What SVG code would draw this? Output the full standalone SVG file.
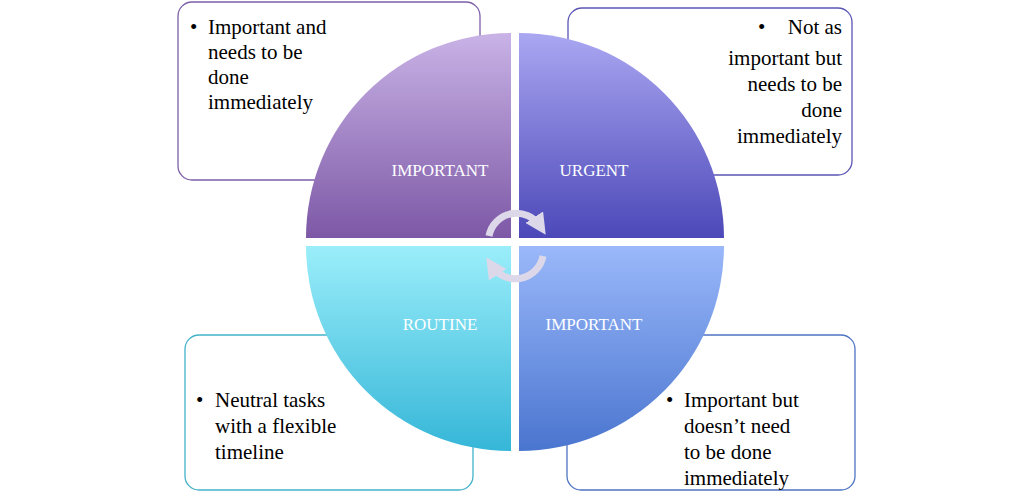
<svg xmlns="http://www.w3.org/2000/svg" width="1033" height="496" viewBox="0 0 1033 496">
<defs>
<linearGradient id="gTL" x1="0" y1="0" x2="0" y2="1"><stop offset="0" stop-color="#c9b3e6"/><stop offset="1" stop-color="#7d58a6"/></linearGradient>
<linearGradient id="gTR" x1="0" y1="0" x2="0" y2="1"><stop offset="0" stop-color="#aaa7f2"/><stop offset="1" stop-color="#4c48b8"/></linearGradient>
<linearGradient id="gBL" x1="0" y1="0" x2="0" y2="1"><stop offset="0" stop-color="#9beefa"/><stop offset="1" stop-color="#35b6d8"/></linearGradient>
<linearGradient id="gBR" x1="0" y1="0" x2="0" y2="1"><stop offset="0" stop-color="#9ab8fa"/><stop offset="1" stop-color="#4a75cf"/></linearGradient>
<marker id="ah" viewBox="0 0 10 10" refX="5" refY="5" markerWidth="3" markerHeight="3" orient="auto"><path d="M0,0 L10,5 L0,10 z" fill="#dcd8ea"/></marker>
</defs>
<style>
.box{fill:#fff;stroke-width:1.3}
.t{font-family:"Liberation Serif",serif;font-size:21px;fill:#000}
.q{font-family:"Liberation Serif",serif;font-size:17px;fill:#fff}
.arc{fill:none;stroke:#dcd8ea;stroke-width:7}
</style>
<g id="box-tl"><rect class="box" x="178" y="2" width="302" height="178" rx="14" stroke="#7d5fa8"/>
<text class="t"><tspan x="190" y="34">•</tspan><tspan x="208" y="34">Important and</tspan><tspan x="208" y="59">needs to be</tspan><tspan x="208" y="84">done</tspan><tspan x="208" y="109">immediately</tspan></text></g>
<g id="box-tr"><rect class="box" x="568" y="8" width="284" height="167" rx="14" stroke="#5a55b5"/>
<text class="t" text-anchor="end"><tspan x="842" y="34">Not as</tspan><tspan x="842" y="65">important but</tspan><tspan x="842" y="91">needs to be</tspan><tspan x="842" y="117">done</tspan><tspan x="842" y="143">immediately</tspan></text><text class="t" x="758" y="34">•</text></g>
<g id="box-bl"><rect class="box" x="185" y="335" width="288" height="155" rx="14" stroke="#42b2c9"/>
<text class="t"><tspan x="196" y="407">•</tspan><tspan x="215" y="407">Neutral tasks</tspan><tspan x="215" y="433">with a flexible</tspan><tspan x="215" y="459">timeline</tspan></text></g>
<g id="box-br"><rect class="box" x="567" y="335" width="288" height="155" rx="14" stroke="#4f74c4"/>
<text class="t"><tspan x="666" y="407">•</tspan><tspan x="684" y="407">Important but</tspan><tspan x="684" y="433">doesn’t need</tspan><tspan x="684" y="459">to be done</tspan><tspan x="684" y="485">immediately</tspan></text></g>
<g id="q-tl"><path d="M511,238 L306,238 A205,205 0 0 1 511,33 Z" fill="url(#gTL)"/><text class="q" x="440" y="176" text-anchor="middle">IMPORTANT</text></g>
<g id="q-tr"><path d="M519,238 L519,33 A205,205 0 0 1 724,238 Z" fill="url(#gTR)"/><text class="q" x="594" y="176" text-anchor="middle">URGENT</text></g>
<g id="q-bl"><path d="M511,246 L511,451 A205,205 0 0 1 306,246 Z" fill="url(#gBL)"/><text class="q" x="440" y="330" text-anchor="middle">ROUTINE</text></g>
<g id="q-br"><path d="M519,246 L724,246 A205,205 0 0 1 519,451 Z" fill="url(#gBR)"/><text class="q" x="594" y="330" text-anchor="middle">IMPORTANT</text></g>
<g id="connectors">
<path class="arc" d="M489,236 A28,28 0 0 1 540,226" marker-end="url(#ah)"/>
<path class="arc" d="M543,256 A28,28 0 0 1 492,266" marker-end="url(#ah)"/>
</g>
</svg>
